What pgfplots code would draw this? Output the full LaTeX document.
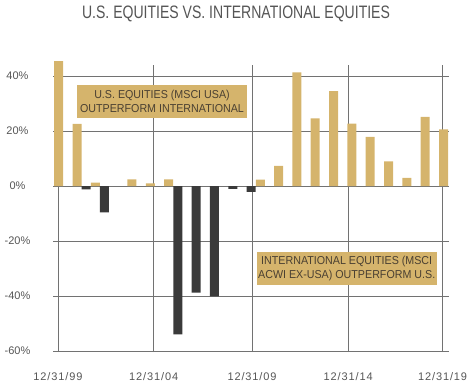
\documentclass[border=0pt]{standalone}
\usepackage{pgfplots}
\pgfplotsset{compat=1.18}
\usepackage{fontspec}
\setmainfont{Liberation Sans}
\newfontfamily\lab[LetterSpace=8]{Liberation Sans}
\newfontfamily\ttl[FakeStretch=0.78]{Liberation Sans}
\newfontfamily\bxf[FakeStretch=0.93]{Liberation Sans}
\definecolor{gold}{HTML}{D5B46C}
\definecolor{darkbar}{HTML}{3A3A3A}
\definecolor{gridc}{HTML}{727272}
\definecolor{labc}{HTML}{555555}
\definecolor{boxtxt}{HTML}{4A4032}
\begin{document}
\begin{tikzpicture}[x=1pt,y=1pt]
\useasboundingbox (0,0) rectangle (476,386);
\node[text=labc,font=\ttl\fontsize{18}{20}\selectfont] at (236,372.5) {U.S. EQUITIES VS. INTERNATIONAL EQUITIES};
\begin{axis}[
  at={(53pt,34pt)}, anchor=south west,
  scale only axis, width=396pt, height=287pt,
  xmin=-0.62, xmax=42.6, ymin=-60.4, ymax=44.05,
  clip=false,
  axis line style={draw=none},
  major tick length=0pt,
  grid=major,
  major grid style={gridc, line width=0.8pt},
  xtick={-0.08,10.37,21.1,31.6,41.9},
  xticklabels={12/31/99,12/31/04,12/31/09,12/31/14,12/31/19},
  ytick={-60,-40,-20,0,20,40},
  yticklabels={-60\%,-40\%,-20\%,0\%,20\%,40\%},
  yticklabel style={anchor=center, xshift=-35.5pt, text=labc, font=\fontsize{11}{13}\selectfont},
  xticklabel style={anchor=center, yshift=-25pt, text=labc, font=\lab\fontsize{11}{13}\selectfont},
  ybar, bar width=9pt,
]
\addplot[fill=gold, draw=none, bar shift=0pt] coordinates {
 (0,45.5) (2,22.6) (4,1.2) (8,2.4) (10,1.0) (12,2.4) (22,2.3) (24,7.3) (26,41.4) (28,24.6) (30,34.5) (32,22.7) (34,17.9) (36,9.0) (38,3.0) (40,25.2) (42,20.6)
};
\addplot[fill=darkbar, draw=none, bar shift=0pt] coordinates {
 (3,-1.2) (5,-9.6) (13,-54.0) (15,-38.8) (17,-40.2) (19,-1.0) (21,-2.1)
};
\end{axis}
\node[fill=gold,minimum width=170pt,minimum height=33pt,inner sep=0pt,align=center,text=boxtxt,font=\bxf\fontsize{11.5}{14}\selectfont] at (162,284.5) {U.S. EQUITIES (MSCI USA)\\OUTPERFORM INTERNATIONAL};
\node[fill=gold,minimum width=180pt,minimum height=33pt,inner sep=0pt,align=center,text=boxtxt,font=\bxf\fontsize{11.5}{14}\selectfont] at (346.7,117.7) {INTERNATIONAL EQUITIES (MSCI\\ACWI EX-USA) OUTPERFORM U.S.};
\end{tikzpicture}
\end{document}
